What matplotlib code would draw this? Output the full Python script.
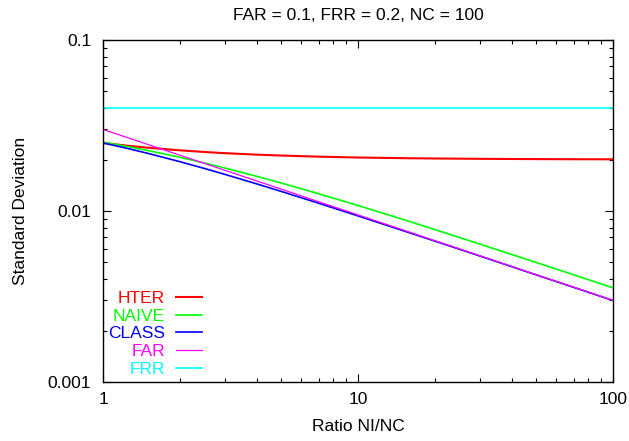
import matplotlib
matplotlib.use("Agg")
import matplotlib.pyplot as plt
from matplotlib.ticker import LogLocator, NullFormatter, FixedFormatter, FixedLocator
from matplotlib import rcParams

rcParams.update({'font.size': 12.5})
rcParams['font.family'] = ['Liberation Sans', 'DejaVu Sans']

# ratio NI/NC, read along the x axis
ratio = [1, 1.25, 1.5, 2, 2.5, 3, 4, 5, 7, 10, 15, 20, 30, 50, 70, 100]

hter = [0.0250, 0.02408, 0.02345, 0.02264, 0.02214, 0.02179, 0.02136, 0.02110,
        0.02079, 0.02055, 0.02037, 0.02028, 0.02019, 0.02011, 0.02008, 0.02006]
naive = [0.02525, 0.02380, 0.02258, 0.02062, 0.01909, 0.01785, 0.01597, 0.01458,
         0.01262, 0.01077, 0.00893, 0.00779, 0.00641, 0.00500, 0.00424, 0.003553]
klass = [0.0250, 0.02320, 0.02173, 0.01944, 0.01773, 0.01639, 0.01442, 0.01302,
         0.01111, 0.00936, 0.00768, 0.00667, 0.00546, 0.00423, 0.00358, 0.002997]
far = [0.0300, 0.02683, 0.02449, 0.02121, 0.01897, 0.01732, 0.01500, 0.01342,
       0.01134, 0.00949, 0.00775, 0.00671, 0.00548, 0.00424, 0.00359, 0.0030]
frr = [0.04] * len(ratio)

series = [
    ("HTER", hter, "#ff0000", 1.5),
    ("NAIVE", naive, "#00ff00", 1.2),
    ("CLASS", klass, "#0000ff", 1.2),
    ("FAR", far, "#ff00ff", 0.9),
    ("FRR", frr, "#00ffff", 1.2),
]

fig = plt.figure(figsize=(6.29, 4.41), dpi=100)
ax = fig.add_axes([103 / 629, 1 - 382 / 441, 510 / 629, 342 / 441])

for name, vals, col, lw in series:
    ax.plot(ratio, vals, color=col, lw=lw, label=name)

ax.set_xscale("log")
ax.set_yscale("log")
ax.set_xlim(1, 100)
ax.set_ylim(0.001, 0.1)

ax.xaxis.set_major_locator(FixedLocator([1, 10, 100]))
ax.xaxis.set_major_formatter(FixedFormatter(["1", "10", "100"]))
ax.yaxis.set_major_locator(FixedLocator([0.001, 0.01, 0.1]))
ax.yaxis.set_major_formatter(FixedFormatter(["0.001", "0.01", "0.1"]))
ax.xaxis.set_minor_locator(LogLocator(base=10, subs=range(2, 10)))
ax.yaxis.set_minor_locator(LogLocator(base=10, subs=range(2, 10)))
ax.xaxis.set_minor_formatter(NullFormatter())
ax.yaxis.set_minor_formatter(NullFormatter())

ax.tick_params(which="both", direction="in", top=True, right=True, width=0.8)
ax.tick_params(which="major", length=6)
ax.tick_params(which="minor", length=3)
ax.tick_params(axis="x", which="major", pad=7)
ax.tick_params(axis="y", which="major", pad=8.5)
for sp in ax.spines.values():
    sp.set_linewidth(1.0)

ax.set_xlabel("Ratio NI/NC", labelpad=9)
ax.set_ylabel("Standard Deviation", labelpad=14)
fig.text(358 / 629, 1 - 15 / 441, "FAR = 0.1, FRR = 0.2, NC = 100", ha="center", va="center")

ax.legend(loc="lower left", bbox_to_anchor=(0.01, 0.015), frameon=False,
          markerfirst=False, labelcolor="linecolor", handlelength=1.5,
          handletextpad=0.65, labelspacing=0.15, borderpad=0, borderaxespad=0)

fig.savefig("out.png", dpi=100)
